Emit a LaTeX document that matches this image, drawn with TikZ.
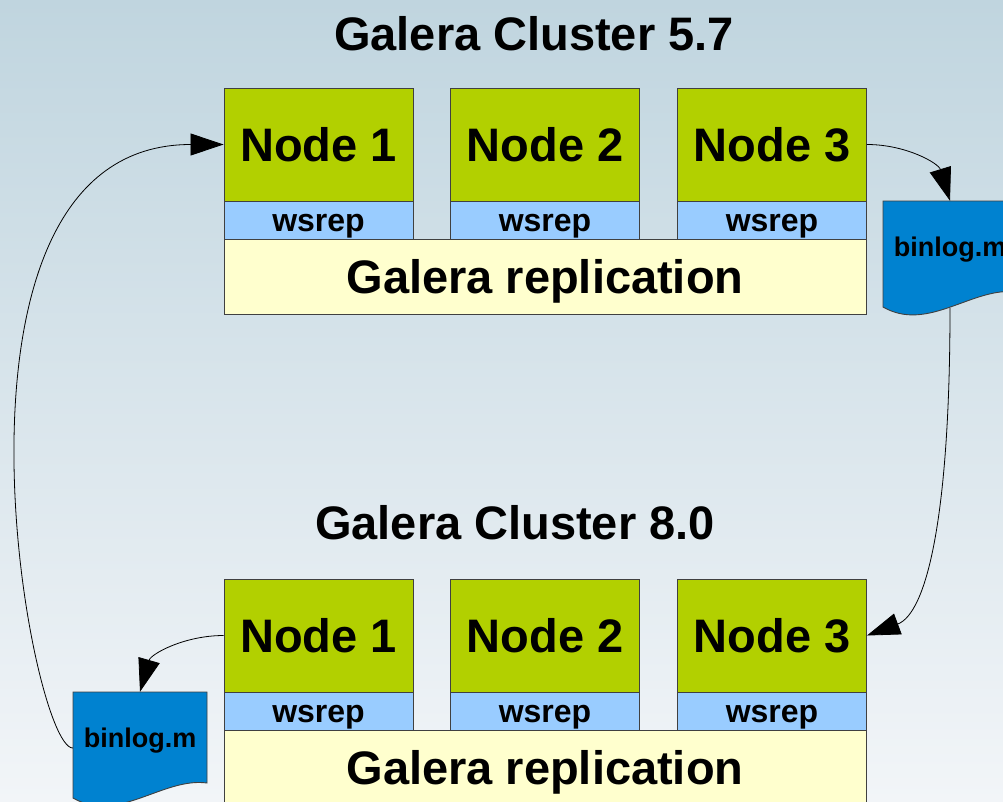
\documentclass[tikz,border=0pt]{standalone}
\usepackage{fontspec}
\setmainfont{Liberation Sans}
\usepackage{tikz}
\usetikzlibrary{arrows.meta}
\definecolor{nodegreen}{RGB}{178,208,0}
\definecolor{wsrepblue}{RGB}{153,204,255}
\definecolor{replyellow}{RGB}{255,255,206}
\definecolor{logblue}{RGB}{0,130,208}
\definecolor{bgtop}{RGB}{192,213,223}
\definecolor{bgbottom}{RGB}{242,245,248}
\tikzstyle{server}=[rectangle,draw=black!75,line width=0.9pt,fill=nodegreen,minimum width=189pt,minimum height=113pt,inner sep=0pt,text height=33.7pt,text depth=0pt,font=\fontsize{47}{56}\selectfont\bfseries]
\tikzstyle{wsrep}=[rectangle,draw=black!75,line width=0.9pt,fill=wsrepblue,minimum width=189pt,minimum height=38pt,inner sep=0pt,text height=23pt,text depth=0pt,font=\fontsize{32}{38}\selectfont\bfseries]
\tikzstyle{repl}=[rectangle,draw=black!75,line width=0.9pt,fill=replyellow,minimum width=642pt,minimum height=75pt,inner sep=0pt,text height=33.7pt,text depth=0pt,font=\fontsize{47}{56}\selectfont\bfseries]
\tikzstyle{clustertitle}=[anchor=base,inner sep=0pt,font=\fontsize{47}{56}\selectfont\bfseries]
\tikzstyle{binlog}=[rectangle,minimum width=134pt,minimum height=92pt,inner sep=0pt,text height=19.4pt,text depth=0pt,font=\fontsize{27}{32}\selectfont\bfseries]
\tikzstyle{docshape}=[draw=black!75,line width=0.9pt,fill=logblue]
\tikzstyle{flow}=[line width=0.8pt,-{Triangle[length=33pt,width=22pt]}]

\begin{document}
\begin{tikzpicture}[x=1pt,y=1pt]
\useasboundingbox (0,0) rectangle (1003,-801);
\clip (0,0) rectangle (1003,-801);
\shade[top color=bgtop,bottom color=bgbottom] (0,0) rectangle (1003,-801);

% cluster 5.7
\node[clustertitle] (t1) at (534,-50) {Galera Cluster 5.7};

\node[server] (n1) at (318.5,-144.5) {Node 1};
\node[server] (n2) at (545,-144.5) {Node 2};
\node[server] (n3) at (772,-144.5) {Node 3};

\node[wsrep] (w1) at (318.5,-220) {wsrep};
\node[wsrep] (w2) at (545,-220) {wsrep};
\node[wsrep] (w3) at (772,-220) {wsrep};

\node[repl] (rep) at (545,-276.5) {Galera replication};

% cluster 8.0
\node[clustertitle] (t2) at (515,-539) {Galera Cluster 8.0};

\node[server] (m1) at (318.5,-635.5) {Node 1};
\node[server] (m2) at (545,-635.5) {Node 2};
\node[server] (m3) at (772,-635.5) {Node 3};

\node[wsrep] (x1) at (318.5,-711) {wsrep};
\node[wsrep] (x2) at (545,-711) {wsrep};
\node[wsrep] (x3) at (772,-711) {wsrep};

\node[repl] (mrep) at (545,-767.5) {Galera replication};

% binlogs
\draw[docshape] (883,-201) -- ++(134,0) -- ++(0,-91) .. controls +(-44,6) and +(45,-26) .. ++(-134,-15) -- cycle;
\node[binlog] (log) at (950,-247) {binlog.m};

\draw[docshape] (73,-692) -- ++(134,0) -- ++(0,-91) .. controls +(-44,6) and +(45,-26) .. ++(-134,-15) -- cycle;
\node[binlog] (blog) at (140,-738) {binlog.m};

\coordinate (logout) at ([yshift=-15pt]log.south);
\coordinate (blogout) at ([yshift=-10pt]blog.west);

% edges and paths
\draw[flow] (n3.east) to[out=0,in=107] (log.north);
\draw[flow] (logout) .. controls +(0,-212) and +(59,22) .. (m3.east);
\draw[flow] (m1.west) to[out=180,in=74] (blog.north);
\draw[flow] (blogout) .. controls +(-43,0) and +(-304,0) .. (n1.west);

\end{tikzpicture}
\end{document}
